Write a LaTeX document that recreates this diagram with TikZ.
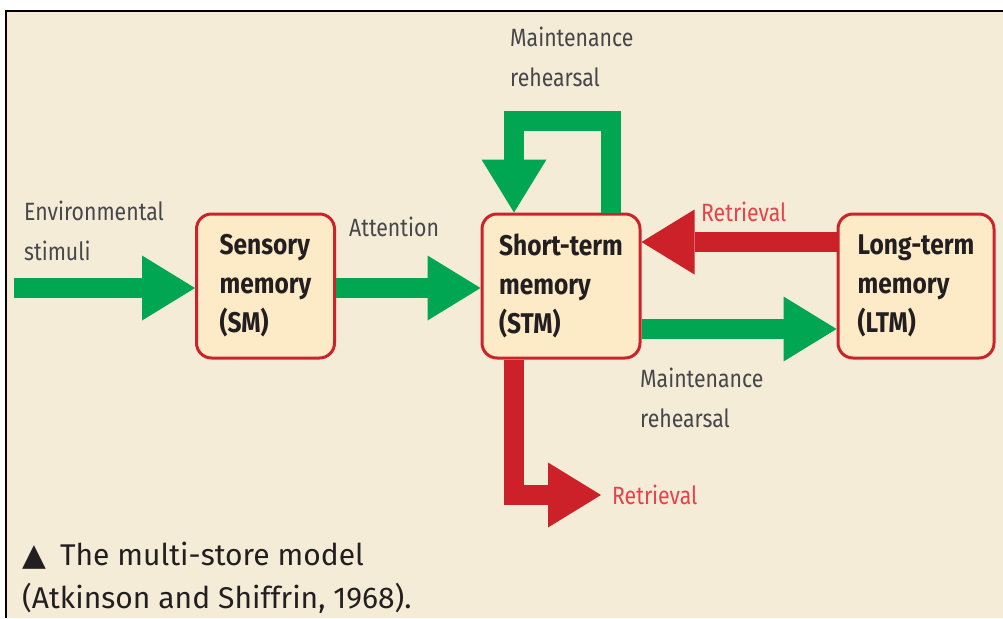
\documentclass[tikz,border=0pt]{standalone}
\usepackage{fontspec}
\setmainfont{Fira Sans}
\newfontfamily\labelfont[FakeStretch=0.85]{Fira Sans}
\newfontfamily\boxfont[FakeStretch=0.86]{Fira Sans}
\newfontfamily\captionfont{Fira Sans}
\newfontfamily\symbolfont{DejaVu Sans}
\usepackage{tikz}
\usetikzlibrary{arrows.meta, calc}

\definecolor{paper}{RGB}{245,236,215}
\definecolor{boxfill}{RGB}{253,235,200}
\definecolor{boxred}{RGB}{204,35,42}
\definecolor{flowgreen}{RGB}{0,166,81}
\definecolor{flowred}{RGB}{205,33,42}
\definecolor{ink}{RGB}{35,31,32}
\definecolor{labelgray}{RGB}{70,70,75}
\definecolor{labelred}{RGB}{232,65,75}

\begin{document}
\begin{tikzpicture}[x=1pt, y=-1pt,
    store/.style={draw=boxred, line width=3pt, fill=boxfill, rounded corners=15pt,
        minimum height=144pt, align=left, text=ink,
        font=\boxfont\bfseries\fontsize{28.5}{39}\selectfont},
    lbl/.style={anchor=north west, inner sep=0pt, align=left, text=labelgray,
        font=\labelfont\fontsize{25}{40}\selectfont},
    redlbl/.style={lbl, text=labelred},
    fat/.style={line width=20pt, line join=miter,
        -{Triangle[width=65pt, length=53pt, line width=0pt]}},
    greenflow/.style={fat, draw=flowgreen},
    redflow/.style={fat, draw=flowred}]
    \useasboundingbox (0,0) rectangle (1003,618);

    % page and frame
    \fill[white] (0,0) rectangle (1003,618);
    \fill[paper] (6,11) rectangle (1003,618);
    \draw[line width=2.2pt] (6,618) -- (6,11) -- (1003,11);

    % Stores
    \node[store, minimum width=138pt] (sm)  at (265.5,286) {Sensory\\memory\\(SM)};
    \node[store, minimum width=158pt] (stm) at (561,286)   {Short-term\\memory\\(STM)};
    \node[store, minimum width=156pt] (ltm) at (916,286)   {Long-term\\memory\\(LTM)};

    % Flows between the stores
    \coordinate (env) at (14,288);
    \coordinate (recall) at (601,495);
    \draw[greenflow] (env) -- (env -| sm.west);
    \draw[greenflow] ([yshift=-2pt]sm.east) -- ([yshift=-2pt]stm.west);
    \draw[greenflow] ([xshift=50pt]stm.north) |- ($(stm.north)+(-47,-91.5)$) -- ([xshift=-47pt]stm.north);
    \draw[redflow] ([yshift=44pt]ltm.west) -- ([yshift=44pt]stm.east);
    \draw[greenflow] ([yshift=-43pt]stm.east) -- ([yshift=-43pt]ltm.west);
    \draw[redflow] ([xshift=-47pt]stm.south) |- (recall);

    % Labels
    \node[lbl] (envlbl) at (24,201) {Environmental\\stimuli};
    \node[lbl] (attlbl) at (349,217) {Attention};
    \node[lbl] (looplbl) at (510,27) {Maintenance\\rehearsal};
    \node[lbl] (rehlbl) at (640,368) {Maintenance\\rehearsal};
    \node[redlbl] (retlbl) at (701,202) {Retrieval};
    \node[redlbl, anchor=west] (outlbl) at ([xshift=11pt]recall) {Retrieval};

    % Caption
    \node[anchor=north west, inner sep=0pt, align=left, text=ink,
        font=\captionfont\fontsize{30}{43}\selectfont] (caption) at (22,542)
        {{\symbolfont\fontsize{31}{43}\selectfont ▲}\hspace{14pt}The multi-store model\\(Atkinson and Shiffrin, 1968).};
\end{tikzpicture}
\end{document}
